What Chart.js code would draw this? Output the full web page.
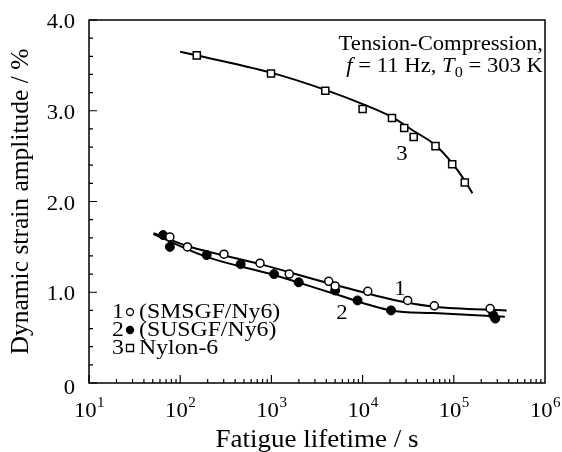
<!DOCTYPE html>
<html>
<head>
<meta charset="utf-8">
<script src="https://cdn.jsdelivr.net/npm/chart.js@4.4.0/dist/chart.umd.min.js"></script>
<style>
  html, body { margin: 0; padding: 0; background: #fff; }
  #wrap { width: 562px; height: 452px; }
  .preload { font-family: "Liberation Serif"; position: absolute; left: -999px; top: 0; }
</style>
</head>
<body>
<span class="preload">0 <i>f</i></span>
<div id="wrap"><canvas id="fatigue-chart" width="562" height="452"></canvas></div>
<script>
// measured points: fatigue lifetime (s) and dynamic strain amplitude (%)
const smsgfLife   = [77, 120, 302, 750, 1570, 4250, 5000, 11400, 31200, 61100, 250000];
const smsgfStrain = [1.61, 1.50, 1.42, 1.32, 1.20, 1.12, 1.07, 1.01, 0.91, 0.85, 0.82];
const susgfLife   = [65, 77, 195, 460, 1070, 1990, 5000, 8800, 20500, 270000, 285000];
const susgfStrain = [1.63, 1.50, 1.41, 1.31, 1.20, 1.11, 1.02, 0.91, 0.80, 0.75, 0.71];
const nylonLife   = [152, 990, 3900, 10000, 21000, 28600, 36300, 63000, 96000, 132000];
const nylonStrain = [3.61, 3.41, 3.22, 3.02, 2.92, 2.81, 2.71, 2.61, 2.41, 2.21];

// fitted curves
const fit1Life   = [51, 120, 750, 4250, 25700, 61000, 380000];
const fit1Strain = [1.65, 1.51, 1.31, 1.10, 0.90, 0.84, 0.80];
const fit2Life   = [51, 195, 1070, 5000, 20500, 60000, 363000];
const fit2Strain = [1.64, 1.39, 1.19, 0.98, 0.80, 0.77, 0.73];
const fit3Life   = [100, 990, 3900, 10200, 21000, 36000, 63000, 96400, 132000, 160000];
const fit3Strain = [3.65, 3.42, 3.23, 3.07, 2.93, 2.78, 2.62, 2.42, 2.23, 2.09];

// axis ticks
const xTickValues = [10, 100, 1000, 10000, 100000, 1000000];
const xTickExps   = ['1', '2', '3', '4', '5', '6'];
const yTickValues = [0, 1, 2, 3, 4];
const yTickLabels = ['0', '1.0', '2.0', '3.0', '4.0'];

const legendRows = [
    { num: '1', style: 'open', text: '(SMSGF/Ny6)' },
    { num: '2', style: 'filled', text: '(SUSGF/Ny6)' },
    { num: '3', style: 'square', text: 'Nylon-6' }
];
const curveLabels = [
    { text: '1', x: 25700, y: 1.05 },
    { text: '2', x: 5940, y: 0.78 },
    { text: '3', x: 27000, y: 2.53 }
];

const SERIF = '"Liberation Serif", "Times New Roman", serif';
const H_STRETCH = 1.08; // the scanned figure is a bit wider than tall

const toPoints = (xs, ys) => xs.map((x, i) => ({ x: x, y: ys[i] }));

const drawText = (ctx, text, x, y, align) => {
    const w = ctx.measureText(text).width * H_STRETCH;
    let left = x;
    if (align === 'center') left = x - w / 2;
    else if (align === 'right') left = x - w;
    ctx.save();
    ctx.translate(left, y);
    ctx.scale(H_STRETCH, 1);
    ctx.textAlign = 'left';
    ctx.fillText(text, 0, 0);
    ctx.restore();
    return w;
};

const drawMarker = (ctx, style, x, y, r) => {
    ctx.save();
    ctx.lineWidth = 1.3;
    ctx.strokeStyle = '#000';
    ctx.fillStyle = style === 'filled' ? '#000' : '#fff';
    ctx.beginPath();
    if (style === 'square') ctx.rect(x - r, y - r, 2 * r, 2 * r);
    else ctx.arc(x, y, r, 0, Math.PI * 2);
    ctx.fill();
    ctx.stroke();
    ctx.restore();
};

const framePlugin = {
    id: 'frame',
    afterDraw(chart) {
        const ctx = chart.ctx;
        const { left, right, top, bottom } = chart.chartArea;
        const xs = chart.scales.x;
        const ys = chart.scales.y;

        ctx.save();
        ctx.strokeStyle = '#000';
        ctx.fillStyle = '#000';
        ctx.lineWidth = 1.5;
        ctx.strokeRect(left, top, right - left, bottom - top);

        // inward ticks
        ctx.lineWidth = 1.2;
        ctx.beginPath();
        for (let e = 1; e < 6; e++) {
            for (let m = 1; m <= 9; m++) {
                const px = xs.getPixelForValue(m * Math.pow(10, e));
                const len = m === 1 ? 8 : 4;
                ctx.moveTo(px, bottom);
                ctx.lineTo(px, bottom - len);
            }
        }
        for (let i = 0; i <= 20; i++) {
            const py = ys.getPixelForValue(i * 0.2);
            const len = i % 5 === 0 ? 8 : 4;
            ctx.moveTo(left, py);
            ctx.lineTo(left + len, py);
        }
        ctx.stroke();

        // tick labels
        ctx.textBaseline = 'alphabetic';
        xTickValues.forEach((v, i) => {
            const px = xs.getPixelForValue(v);
            ctx.font = '21px ' + SERIF;
            const wBase = ctx.measureText('10').width * H_STRETCH;
            ctx.font = '14px ' + SERIF;
            const wExp = ctx.measureText(xTickExps[i]).width * H_STRETCH;
            const start = px - (wBase + wExp) / 2;
            ctx.font = '21px ' + SERIF;
            drawText(ctx, '10', start, 417, 'left');
            ctx.font = '14px ' + SERIF;
            drawText(ctx, xTickExps[i], start + wBase + 0.5, 407, 'left');
        });
        ctx.font = '21px ' + SERIF;
        yTickValues.forEach((v, i) => {
            const py = ys.getPixelForValue(v);
            drawText(ctx, yTickLabels[i], 75, py + (i === 0 ? 11 : 8), 'right');
        });

        // axis titles
        ctx.font = '25px ' + SERIF;
        drawText(ctx, 'Fatigue lifetime / s', (left + right) / 2, 447, 'center');
        ctx.save();
        ctx.translate(28, (top + bottom) / 2);
        ctx.rotate(-Math.PI / 2);
        ctx.textAlign = 'center';
        ctx.font = '25.5px ' + SERIF;
        ctx.fillText('Dynamic strain amplitude / %', 0, 0);
        ctx.restore();

        // test conditions, top right
        ctx.font = '21px ' + SERIF;
        drawText(ctx, 'Tension-Compression,', right - 2, 50, 'right');
        const line2 = [
            { t: 'f', font: 'italic 21px ' },
            { t: ' = 11 Hz, ', font: '21px ' },
            { t: 'T', font: 'italic 21px ' },
            { t: '0', font: '15px ', dy: 5 },
            { t: ' = 303 K', font: '21px ' }
        ];
        let total = 0;
        line2.forEach(seg => {
            ctx.font = seg.font + SERIF;
            seg.w = ctx.measureText(seg.t).width * H_STRETCH;
            total += seg.w;
        });
        let cx = right - 2 - total;
        line2.forEach(seg => {
            ctx.font = seg.font + SERIF;
            drawText(ctx, seg.t, cx, 72 + (seg.dy || 0), 'left');
            cx += seg.w;
        });

        // legend, lower left
        legendRows.forEach((row, i) => {
            const base = 318 + i * 18;
            ctx.font = '22px ' + SERIF;
            drawText(ctx, row.num, 112, base, 'left');
            drawMarker(ctx, row.style, 130, base - 6, 3.5);
            drawText(ctx, row.text, 139, base, 'left');
        });

        // curve numbers
        ctx.font = '21px ' + SERIF;
        curveLabels.forEach(lbl => {
            drawText(ctx, lbl.text, xs.getPixelForValue(lbl.x), ys.getPixelForValue(lbl.y) + 7, 'center');
        });
        ctx.restore();
    }
};

const curveStyle = {
    showLine: true,
    pointRadius: 0,
    borderColor: '#000',
    borderWidth: 2,
    cubicInterpolationMode: 'monotone'
};

const config = {
    type: 'scatter',
    data: {
        datasets: [
            {
                label: '1 (SMSGF/Ny6)',
                data: toPoints(smsgfLife, smsgfStrain),
                pointStyle: 'circle',
                pointRadius: 4,
                borderWidth: 1.5,
                borderColor: '#000',
                backgroundColor: '#fff',
                order: 1
            },
            {
                label: '2 (SUSGF/Ny6)',
                data: toPoints(susgfLife, susgfStrain),
                pointStyle: 'circle',
                pointRadius: 4.5,
                borderWidth: 1,
                borderColor: '#000',
                backgroundColor: '#000',
                order: 1
            },
            {
                label: '3 Nylon-6',
                data: toPoints(nylonLife, nylonStrain),
                pointStyle: 'rect',
                pointRadius: 5,
                borderWidth: 1.5,
                borderColor: '#000',
                backgroundColor: '#fff',
                order: 1
            },
            Object.assign({ label: 'fit 1', data: toPoints(fit1Life, fit1Strain), order: 2 }, curveStyle),
            Object.assign({ label: 'fit 2', data: toPoints(fit2Life, fit2Strain), order: 2 }, curveStyle),
            Object.assign({ label: 'fit 3', data: toPoints(fit3Life, fit3Strain), order: 2 }, curveStyle)
        ]
    },
    options: {
        responsive: false,
        animation: false,
        layout: { padding: { top: 20, right: 17, left: 0, bottom: 0 } },
        plugins: {
            legend: { display: false },
            tooltip: { enabled: false }
        },
        scales: {
            x: {
                type: 'logarithmic',
                min: 10,
                max: 1000000,
                ticks: { display: false },
                grid: { display: false },
                border: { display: false },
                afterFit: scale => { scale.height = 69; }
            },
            y: {
                min: 0,
                max: 4,
                ticks: { display: false },
                grid: { display: false },
                border: { display: false },
                afterFit: scale => { scale.width = 89; }
            }
        }
    },
    plugins: [framePlugin]
};

const start = () => {
    const ctx = document.getElementById('fatigue-chart').getContext('2d');
    new Chart(ctx, config);
};

Promise.all([
    document.fonts.load('21px "Liberation Serif"'),
    document.fonts.load('italic 21px "Liberation Serif"')
]).then(start, start);
</script>
</body>
</html>
